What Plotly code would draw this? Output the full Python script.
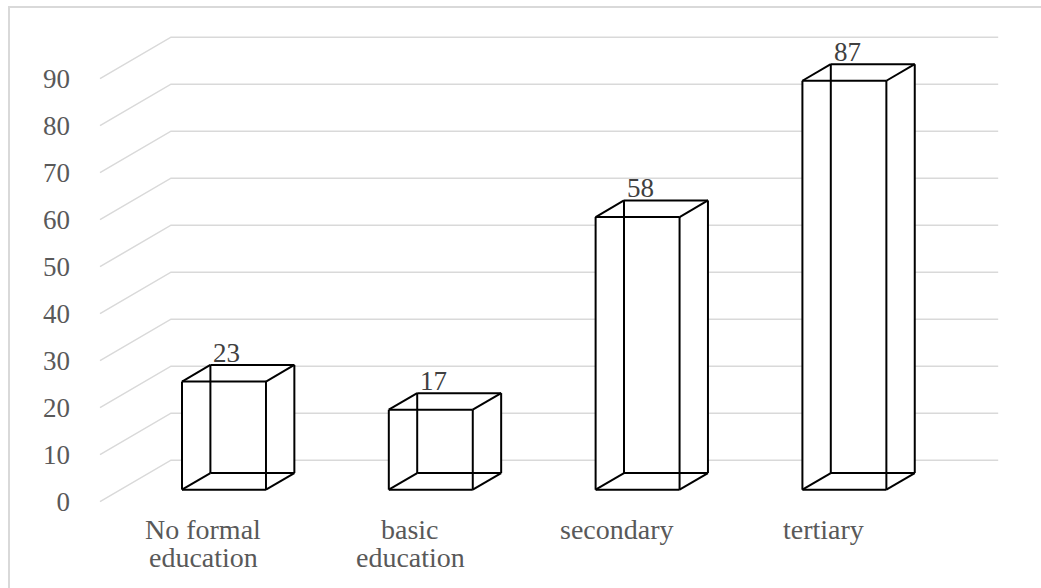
import plotly.graph_objects as go

# ---- data -------------------------------------------------------------
category_lines = [["No formal", "education"], ["basic", "education"], ["secondary"], ["tertiary"]]
values = [23, 17, 58, 87]
y_ticks = [0, 10, 20, 30, 40, 50, 60, 70, 80, 90]

# ---- oblique 3-D projection (depth axis drawn up and to the right) ----
DEPTH_X = 0.3433      # category units moved per unit of depth
DEPTH_Y = 8.83        # value units moved per unit of depth
BAR_HALF = 0.203      # half width of a column, in category units
BAR_D0, BAR_D1 = 0.29, 0.69   # front / back depth of each column
LABEL_D = 0.33        # depth at which the value labels sit

SERIF = "Liberation Serif, Times New Roman, serif"


def proj(x, v, d):
    """Project (category, value, depth) onto the 2-D axes."""
    return x + d * DEPTH_X, v + d * DEPTH_Y


fig = go.Figure()

# gridlines: a diagonal on the side wall then a horizontal on the back wall
n = len(values)
gx, gy = [], []
for t in y_ticks:
    for x, d in [(-0.5, 0.0), (-0.5, 1.0), (n - 0.5, 1.0)]:
        px, py = proj(x, t, d)
        gx.append(px)
        gy.append(py)
    gx.append(None)
    gy.append(None)
fig.add_trace(go.Scatter(x=gx, y=gy, mode="lines",
                         line=dict(color="#d9d9d9", width=1.5),
                         hoverinfo="skip", showlegend=False))

# wire-frame columns with an opaque white body
for i, v in enumerate(values):
    c = {}
    for a, x in (("l", i - BAR_HALF), ("r", i + BAR_HALF)):
        for b, h in (("b", 0), ("t", v)):
            for k, d in (("f", BAR_D0), ("k", BAR_D1)):
                c[a + b + k] = proj(x, h, d)

    outline = ["lbf", "rbf", "rbk", "rtk", "ltk", "ltf", "lbf"]
    fig.add_trace(go.Scatter(x=[c[p][0] for p in outline],
                             y=[c[p][1] for p in outline],
                             mode="lines", fill="toself", fillcolor="white",
                             line=dict(width=0, color="white"),
                             hoverinfo="skip", showlegend=False))

    edges = [("lbf", "rbf"), ("rbf", "rtf"), ("rtf", "ltf"), ("ltf", "lbf"),
             ("lbk", "rbk"), ("rbk", "rtk"), ("rtk", "ltk"), ("ltk", "lbk"),
             ("lbf", "lbk"), ("rbf", "rbk"), ("rtf", "rtk"), ("ltf", "ltk")]
    ex, ey = [], []
    for p, q in edges:
        ex += [c[p][0], c[q][0], None]
        ey += [c[p][1], c[q][1], None]
    fig.add_trace(go.Scatter(x=ex, y=ey, mode="lines",
                             line=dict(color="black", width=2),
                             hoverinfo="skip", showlegend=False))

    # value label above the column
    lx, _ = proj(i, v, LABEL_D)
    _, ly = proj(i, v, BAR_D1)
    fig.add_annotation(x=lx, y=ly, text=str(v), showarrow=False,
                       xanchor="center", yanchor="bottom", yshift=-5,
                       font=dict(family=SERIF, size=27, color="#404040"))

# category labels along the front edge of the floor
for i, lines in enumerate(category_lines):
    for k, line in enumerate(lines):
        fig.add_annotation(x=i, y=-6.0, text=line, showarrow=False,
                           xanchor="center", yanchor="middle", yshift=-28 * k,
                           font=dict(family=SERIF, size=28, color="#595959"))

# chart frame
fig.add_shape(type="rect", xref="paper", yref="paper",
              x0=-0.0739, x1=1.2, y0=-0.2, y1=0.9881,
              line=dict(color="#d9d9d9", width=2), fillcolor="rgba(0,0,0,0)",
              layer="below")

fig.update_layout(
    width=1041, height=588,
    margin=dict(l=80, r=0, t=0, b=0),
    paper_bgcolor="white", plot_bgcolor="white",
    showlegend=False,
    xaxis=dict(range=[-0.5967, 4.0503], visible=False, fixedrange=True),
    yaxis=dict(range=[-18.37, 106.74], tickvals=y_ticks,
               showgrid=False, zeroline=False, showline=False, ticks="",
               ticklabelstandoff=9,
               tickfont=dict(family=SERIF, size=27, color="#595959"),
               fixedrange=True),
)

fig.write_html("out.html")
